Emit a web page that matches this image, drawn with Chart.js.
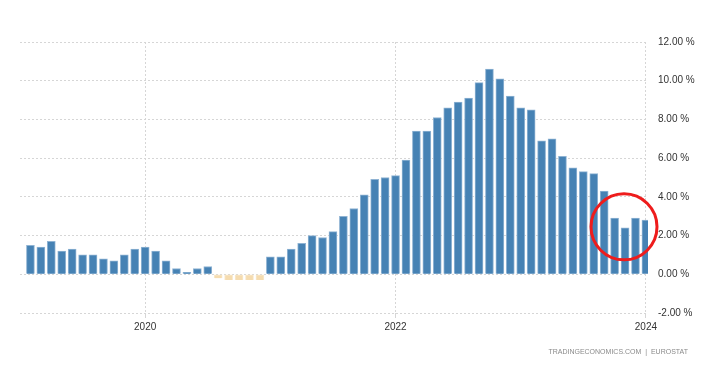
<!DOCTYPE html>
<html>
<head>
<meta charset="utf-8">
<script src="https://cdn.jsdelivr.net/npm/chart.js@4"></script>
<style>
  html, body { margin: 0; padding: 0; background: #fff; }
  #wrap { width: 705px; height: 372px; position: relative; }
</style>
</head>
<body>
<div id="wrap"><canvas id="myChart" width="705" height="372"></canvas></div>
<script>
// euro area inflation rate, Feb 2019 .. Jan 2024
const startYear = 2019;
const startMonth = 2;
const values = [
  1.5, 1.4, 1.7, 1.2, 1.3, 1.0, 1.0, 0.8, 0.7, 1.0, 1.3,
  1.4, 1.2, 0.7, 0.3, 0.1, 0.3, 0.4, -0.2, -0.3, -0.3, -0.3, -0.3,
  0.9, 0.9, 1.3, 1.6, 2.0, 1.9, 2.2, 3.0, 3.4, 4.1, 4.9, 5.0,
  5.1, 5.9, 7.4, 7.4, 8.1, 8.6, 8.9, 9.1, 9.9, 10.6, 10.1, 9.2,
  8.6, 8.5, 6.9, 7.0, 6.1, 5.5, 5.3, 5.2, 4.3, 2.9, 2.4, 2.9,
  2.8,
];
const tickLabels = ["2020", "2022", "2024"];

const months = values.map((v, i) => {
  const m = startMonth - 1 + i;
  const y = startYear + Math.floor(m / 12);
  return y + "-" + String((m % 12) + 1).padStart(2, "0");
});
const tickIdx = tickLabels.map((y) => months.indexOf(y + "-01"));

const gridColor = "#d6d6d6";

const extras = {
  id: "extras",
  afterDraw(chart) {
    const { ctx, scales } = chart;
    // red highlight circle around the last months
    const cx = scales.x.getPixelForValue(56.9);
    const cy = scales.y.getPixelForValue(2.45);
    ctx.save();
    ctx.beginPath();
    ctx.arc(cx, cy, 33, 0, Math.PI * 2);
    ctx.strokeStyle = "#ee1c1c";
    ctx.lineWidth = 3;
    ctx.stroke();
    // source line
    ctx.font = "7px 'Liberation Sans', Arial, sans-serif";
    ctx.fillStyle = "#8a8a8a";
    ctx.textAlign = "right";
    ctx.textBaseline = "middle";
    ctx.fillText("TRADINGECONOMICS.COM  |  EUROSTAT", 688, 352);
    ctx.restore();
  },
};

const ctx = document.getElementById("myChart").getContext("2d");
const myChart = new Chart(ctx, {
  type: "bar",
  data: {
    labels: months,
    datasets: [
      {
        data: values.map((v, i) => ({ x: i, y: v })),
        backgroundColor: values.map((v) => (v < 0 ? "#f5dcb0" : "#4682b4")),
        borderColor: values.map((v) => (v < 0 ? "#f9e9cc" : "#8fb3d3")),
        borderWidth: { top: 1, left: 1, right: 1, bottom: 0 },
        borderSkipped: false,
        barThickness: 8,
      },
    ],
  },
  options: {
    responsive: false,
    animation: false,
    events: [],
    layout: { padding: { left: 20, top: 42, right: 0, bottom: 29 } },
    plugins: { legend: { display: false }, tooltip: { enabled: false } },
    scales: {
      x: {
        type: "linear",
        min: -1,
        max: 59.2,
        offset: false,
        afterBuildTicks: (scale) => {
          scale.ticks = tickIdx.map((v) => ({ value: v }));
        },
        afterFit: (scale) => {
          scale.height = 30;
        },
        grid: {
          offset: false,
          color: gridColor,
          tickLength: 5,
          tickColor: gridColor,
        },
        border: { display: false, dash: [2, 2] },
        ticks: {
          autoSkip: false,
          maxRotation: 0,
          padding: 3,
          color: "#333",
          font: { family: "'Liberation Sans', Arial, sans-serif", size: 10 },
          callback: (v) => tickLabels[tickIdx.indexOf(v)],
        },
      },
      y: {
        position: "right",
        min: -2,
        max: 12,
        afterFit: (scale) => {
          scale.width = 57;
        },
        grid: { color: gridColor, drawTicks: false },
        border: { display: false, dash: [2, 2] },
        ticks: {
          stepSize: 2,
          padding: 10,
          color: "#333",
          font: { family: "'Liberation Sans', Arial, sans-serif", size: 10 },
          callback: (v) => v.toFixed(2) + " %",
        },
      },
    },
  },
  plugins: [extras],
});
</script>
</body>
</html>
